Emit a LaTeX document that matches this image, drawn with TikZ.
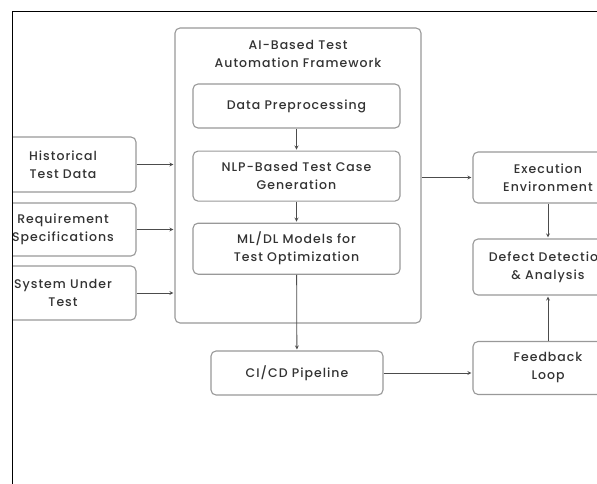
\documentclass[tikz,border=0pt]{standalone}
\usepackage{fontspec}
\setmainfont{Poppins}[UprightFont=* Medium, LetterSpace=8]
\usetikzlibrary{positioning}

\begin{document}
\begin{tikzpicture}
        [
        x=1pt, y=-1pt,
        every node/.style={font=\fontsize{12.5}{18}\selectfont, text=black!80, align=center},
        box/.style={draw=black!40, line width=1.1pt, rounded corners=5pt, fill=white, inner sep=0pt},
        arrow/.style={->, >=stealth, draw=black!70, line width=0.8pt, shorten >=1pt}
        ]
        % page size and clipping frame
        \path[use as bounding box] (0,0) rectangle (597,484);
        \fill[white] (0,0) rectangle (597,484);
        \begin{scope}
        \clip (13,12) rectangle (597,484);
        % Framework
        \node[box, minimum width=246pt, minimum height=295pt] (fw) at (298,175.5) {};
        \node (title) at (298,54) {AI-Based Test\\Automation Framework};
        \node[box, minimum width=207pt, minimum height=44pt] (prep) at (296.5,106) {Data Preprocessing};
        \node[box, minimum width=207pt, minimum height=50pt, below=22pt of prep] (nlp) {NLP-Based Test Case\\Generation};
        \node[box, minimum width=207pt, minimum height=51pt, below=21pt of nlp] (ml) {ML/DL Models for\\Test Optimization};
        % Inputs
        \node[box, minimum width=146pt, minimum height=55pt] (hist) at (63,164.5) {Historical\\Test Data};
        \node[box, minimum width=146pt, minimum height=53pt] (req) at (63,229.5) {Requirement\\Specifications};
        \node[box, minimum width=146pt, minimum height=54pt] (sut) at (63,293) {System Under\\Test};
        % Pipeline and outputs
        \node[box, minimum width=172pt, minimum height=44pt] (cicd) at (297,373) {CI/CD Pipeline};
        \node[box, minimum width=150pt, minimum height=51pt] (exec) at (548,177.5) {Execution\\Environment};
        \node[box, minimum width=150pt, minimum height=56pt] (defect) at (548,267) {Defect Detection\\\& Analysis};
        \node[box, minimum width=150pt, minimum height=53pt] (loop) at (548,368) {Feedback\\Loop};
        % Connectors
        \draw[arrow] (hist) -- (hist -| fw.west);
        \draw[arrow] (req) -- (req -| fw.west);
        \draw[arrow] (sut) -- (sut -| fw.west);
        \draw[arrow] (prep) -- (nlp);
        \draw[arrow] (nlp) -- (ml);
        \draw[arrow] (ml) -- (cicd);
        \draw[arrow] (fw.east |- exec) -- (exec);
        \draw[arrow] (exec) -- (defect);
        \draw[arrow] (cicd) -- (cicd -| loop.west);
        \draw[arrow] (loop) -- (defect);
        \end{scope}
        % Screenshot frame
        \draw[black, line width=1.5pt] (12.5,484) -- (12.5,11.5) -- (597,11.5);
    \end{tikzpicture}
\end{document}
